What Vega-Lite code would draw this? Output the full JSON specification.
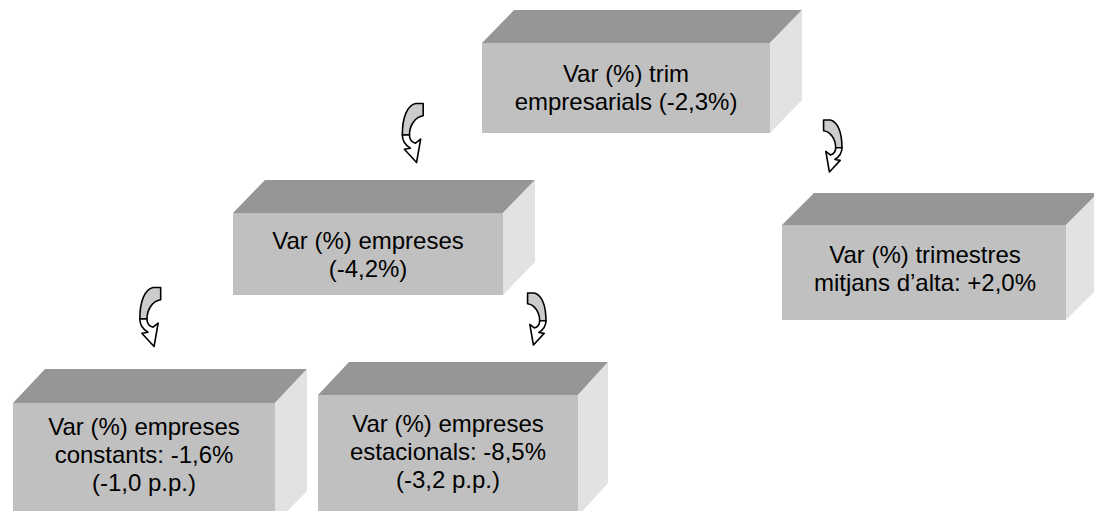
{
  "$schema": "https://vega.github.io/schema/vega-lite/v6.json",
  "width": 1094,
  "height": 511,
  "autosize": "none",
  "padding": 0,
  "background": "white",
  "config": {"view": {"stroke": null}},
  "datasets": {
    "front": [
      {"id": 1, "x1": 482, "x2": 770, "y1": 43, "y2": 133},
      {"id": 2, "x1": 233, "x2": 503, "y1": 213, "y2": 295},
      {"id": 3, "x1": 782, "x2": 1066, "y1": 225, "y2": 320},
      {"id": 4, "x1": 13, "x2": 275, "y1": 403, "y2": 524},
      {"id": 5, "x1": 318, "x2": 578, "y1": 395, "y2": 516}
    ],
    "top": [
      {"id": 1, "y": 43, "xl": 482, "xr": 770}, {"id": 1, "y": 10, "xl": 514, "xr": 802},
      {"id": 2, "y": 213, "xl": 233, "xr": 503}, {"id": 2, "y": 180, "xl": 265, "xr": 535},
      {"id": 3, "y": 225, "xl": 782, "xr": 1066}, {"id": 3, "y": 193, "xl": 814, "xr": 1098},
      {"id": 4, "y": 403, "xl": 13, "xr": 275}, {"id": 4, "y": 369, "xl": 45, "xr": 307},
      {"id": 5, "y": 395, "xl": 318, "xr": 578}, {"id": 5, "y": 362, "xl": 349, "xr": 608}
    ],
    "side": [
      {"id": 1, "x": 770, "yt": 43, "yb": 133}, {"id": 1, "x": 802, "yt": 10, "yb": 100},
      {"id": 2, "x": 503, "yt": 213, "yb": 295}, {"id": 2, "x": 535, "yt": 180, "yb": 262},
      {"id": 3, "x": 1066, "yt": 225, "yb": 320}, {"id": 3, "x": 1098, "yt": 193, "yb": 288},
      {"id": 4, "x": 275, "yt": 403, "yb": 524}, {"id": 4, "x": 307, "yt": 369, "yb": 491},
      {"id": 5, "x": 578, "yt": 395, "yb": 516}, {"id": 5, "x": 608, "yt": 362, "yb": 483}
    ],
    "labels": [
      {"id": 1, "x": 626, "y": 75, "text": "Var (%) trim|empresarials (-2,3%)"},
      {"id": 2, "x": 368, "y": 242, "text": "Var (%) empreses|(-4,2%)"},
      {"id": 3, "x": 925, "y": 256, "text": "Var (%) trimestres|mitjans d’alta: +2,0%"},
      {"id": 4, "x": 144, "y": 428, "text": "Var (%) empreses|constants: -1,6%|(-1,0 p.p.)"},
      {"id": 5, "x": 448, "y": 425, "text": "Var (%) empreses|estacionals: -8,5%|(-3,2 p.p.)"}
    ],
    "arrows": [
      {"id": "A", "dir": "left", "x": 412.5, "y": 133},
      {"id": "C", "dir": "left", "x": 150, "y": 317},
      {"id": "B", "dir": "right", "x": 833, "y": 146},
      {"id": "D", "dir": "right", "x": 537, "y": 319}
    ]
  },
  "layer": [
    {
      "data": {"name": "top"},
      "mark": {"type": "area", "orient": "horizontal", "color": "#969696", "opacity": 1},
      "encoding": {
        "y": {"field": "y", "type": "quantitative", "scale": {"domain": [0, 511], "nice": false, "zero": false, "reverse": true}, "axis": null},
        "x": {"field": "xl", "type": "quantitative", "scale": {"domain": [0, 1094], "nice": false, "zero": false}, "axis": null},
        "x2": {"field": "xr"},
        "detail": {"field": "id", "type": "nominal"}
      }
    },
    {
      "data": {"name": "side"},
      "mark": {"type": "area", "orient": "vertical", "color": "#e2e2e2", "opacity": 1},
      "encoding": {
        "x": {"field": "x", "type": "quantitative", "scale": {"domain": [0, 1094], "nice": false, "zero": false}, "axis": null},
        "y": {"field": "yt", "type": "quantitative", "scale": {"domain": [0, 511], "nice": false, "zero": false, "reverse": true}, "axis": null},
        "y2": {"field": "yb"},
        "detail": {"field": "id", "type": "nominal"}
      }
    },
    {
      "data": {"name": "front"},
      "mark": {"type": "rect", "color": "#c0c0c0", "opacity": 1},
      "encoding": {
        "x": {"field": "x1", "type": "quantitative", "scale": {"domain": [0, 1094], "nice": false, "zero": false}, "axis": null},
        "x2": {"field": "x2"},
        "y": {"field": "y1", "type": "quantitative", "scale": {"domain": [0, 511], "nice": false, "zero": false, "reverse": true}, "axis": null},
        "y2": {"field": "y2"}
      }
    },
    {
      "data": {"name": "labels"},
      "mark": {"type": "text", "font": "Liberation Sans", "fontSize": 24, "lineHeight": 28, "lineBreak": "|", "align": "center", "baseline": "middle", "color": "black"},
      "encoding": {
        "x": {"field": "x", "type": "quantitative", "scale": {"domain": [0, 1094], "nice": false, "zero": false}, "axis": null},
        "y": {"field": "y", "type": "quantitative", "scale": {"domain": [0, 511], "nice": false, "zero": false, "reverse": true}, "axis": null},
        "text": {"field": "text", "type": "nominal"}
      }
    },
    {
      "data": {"name": "arrows"},
      "transform": [{"filter": "datum.dir === 'left'"}],
      "layer": [
        {"mark": {"type": "point", "shape": "M 0.103,-1 L 0.362,-1 L 0.362,-0.586 C 0.103,-0.552 -0.103,-0.276 -0.103,0.069 L -0.345,0.069 C -0.345,-0.552 -0.172,-0.931 0.103,-1 Z", "size": 3481, "fill": "#cccccc", "stroke": "black", "strokeWidth": 1.6, "opacity": 1, "fillOpacity": 1, "strokeJoin": "round"}},
        {"mark": {"type": "point", "shape": "M -0.345,0.069 L -0.103,0.069 C -0.103,0.207 -0.034,0.31 0.103,0.345 L 0.276,0.207 L 0.138,1 L -0.276,0.552 L -0.069,0.517 C -0.241,0.414 -0.345,0.276 -0.345,0.069 Z", "size": 3481, "fill": "white", "stroke": "black", "strokeWidth": 1.6, "opacity": 1, "fillOpacity": 1, "strokeJoin": "round"}}
      ],
      "encoding": {
        "x": {"field": "x", "type": "quantitative", "scale": {"domain": [0, 1094], "nice": false, "zero": false}, "axis": null},
        "y": {"field": "y", "type": "quantitative", "scale": {"domain": [0, 511], "nice": false, "zero": false, "reverse": true}, "axis": null}
      }
    },
    {
      "data": {"name": "arrows"},
      "transform": [{"filter": "datum.dir === 'right'"}],
      "layer": [
        {"mark": {"type": "point", "shape": "M -0.103,-1 L -0.362,-1 L -0.362,-0.586 C -0.103,-0.552 0.103,-0.276 0.103,0.069 L 0.345,0.069 C 0.345,-0.552 0.172,-0.931 -0.103,-1 Z", "size": 2704, "fill": "#cccccc", "stroke": "black", "strokeWidth": 1.6, "opacity": 1, "fillOpacity": 1, "strokeJoin": "round"}},
        {"mark": {"type": "point", "shape": "M 0.345,0.069 L 0.103,0.069 C 0.103,0.207 0.034,0.31 -0.103,0.345 L -0.276,0.207 L -0.138,1 L 0.276,0.552 L 0.069,0.517 C 0.241,0.414 0.345,0.276 0.345,0.069 Z", "size": 2704, "fill": "white", "stroke": "black", "strokeWidth": 1.6, "opacity": 1, "fillOpacity": 1, "strokeJoin": "round"}}
      ],
      "encoding": {
        "x": {"field": "x", "type": "quantitative", "scale": {"domain": [0, 1094], "nice": false, "zero": false}, "axis": null},
        "y": {"field": "y", "type": "quantitative", "scale": {"domain": [0, 511], "nice": false, "zero": false, "reverse": true}, "axis": null}
      }
    }
  ]
}
